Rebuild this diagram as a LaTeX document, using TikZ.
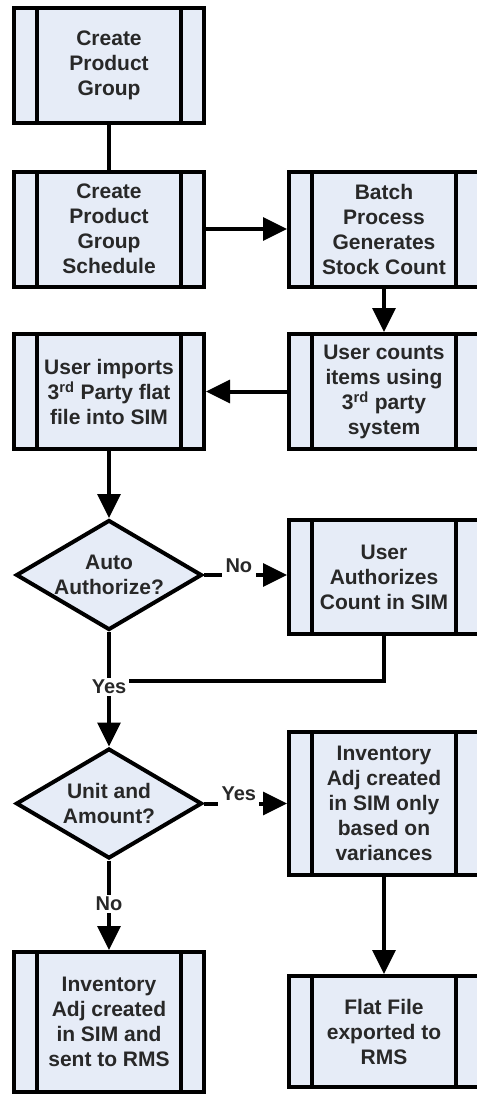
\documentclass[tikz,border=0pt]{standalone}
\usepackage{fontspec}
\setmainfont{Liberation Sans}
\usepackage{xcolor}
\usepackage{tikz}
\usetikzlibrary{shapes.geometric,arrows.meta}
\definecolor{boxfill}{RGB}{230,236,247}
\definecolor{txt}{RGB}{40,40,40}

\begin{document}
\begin{tikzpicture}[x=0.75pt,y=-0.75pt,
        font=\bfseries\fontsize{15.75}{18.75}\selectfont,
        proc/.style={draw, line width=3pt, fill=boxfill, text=txt, align=center,
            minimum width=142.5pt, minimum height=#1, inner sep=0pt,
            path picture={
                \draw[line width=3pt] ([xshift=16.9pt]path picture bounding box.north west) -- ([xshift=16.9pt]path picture bounding box.south west);
                \draw[line width=3pt] ([xshift=-16.9pt]path picture bounding box.north east) -- ([xshift=-16.9pt]path picture bounding box.south east);
            }},
        proc/.default=86.25pt,
        dec/.style={draw, diamond, aspect=1.69, line width=3pt, fill=boxfill, text=txt, align=center,
            minimum width=139.5pt, minimum height=82.5pt, inner sep=0pt},
        conn/.style={line width=3pt},
        arr/.style={line width=3pt, -{Triangle[length=18pt,width=17pt]}},
        lbl/.style={text=txt, font=\bfseries\fontsize{15}{18}\selectfont, inner sep=1.5pt},
        onlbl/.style={lbl, anchor=base, yshift=2pt, fill=white, inner xsep=2.5pt, inner ysep=4.5pt}]
\useasboundingbox (0,0) rectangle (477,1096);

\node[proc] (grp) at (109,65.5) {Create\\Product\\Group};
\node[proc] (sched) at (109,229) {Create\\Product\\Group\\Schedule};
\node[proc] (batch) at (384,229) {Batch\\Process\\Generates\\Stock Count};
\node[proc] (imp) at (109,391.5) {User imports\\3\textsuperscript{rd} Party flat\\file into SIM};
\node[proc] (cnt) at (384,391.5) {User counts\\items using\\3\textsuperscript{rd} party\\system};
\node[dec] (auto) at (109,575) {Auto\\Authorize?};
\node[proc=85.5pt] (uauth) at (384,577) {User\\Authorizes\\Count in SIM};
\node[lbl] (yes1) at (109,687) {Yes};
\node[dec] (unit) at (109,803.5) {Unit and\\Amount?};
\node[proc=107.25pt] (inv1) at (384,803) {Inventory\\Adj created\\in SIM only\\based on\\variances};
\node[lbl] (no2) at (109,904) {No};
\node[proc=105pt] (inv2) at (109,1022) {Inventory\\Adj created\\in SIM and\\sent to RMS};
\node[proc=83.25pt] (flat) at (384,1031.5) {Flat File\\exported to\\RMS};

\draw[conn] (grp) -- (sched);
\draw[arr] (sched) -- (batch);
\draw[arr] (batch) -- (cnt);
\draw[arr] (cnt) -- (imp);
\draw[arr] (imp) -- (auto);
\draw[arr] (auto.east) -- node[onlbl, pos=0.42] {No} (auto.east -| uauth.west);
\draw[conn] (auto) -- (yes1);
\draw[conn] (uauth.south) |- ([yshift=4.5pt]yes1.east);
\draw[arr] (yes1) -- (unit);
\draw[arr] (unit.east) -- node[onlbl, pos=0.42] {Yes} (unit.east -| inv1.west);
\draw[conn] (unit) -- (no2);
\draw[arr] (no2) -- (inv2);
\draw[arr] (inv1) -- (flat);
\end{tikzpicture}
\end{document}
